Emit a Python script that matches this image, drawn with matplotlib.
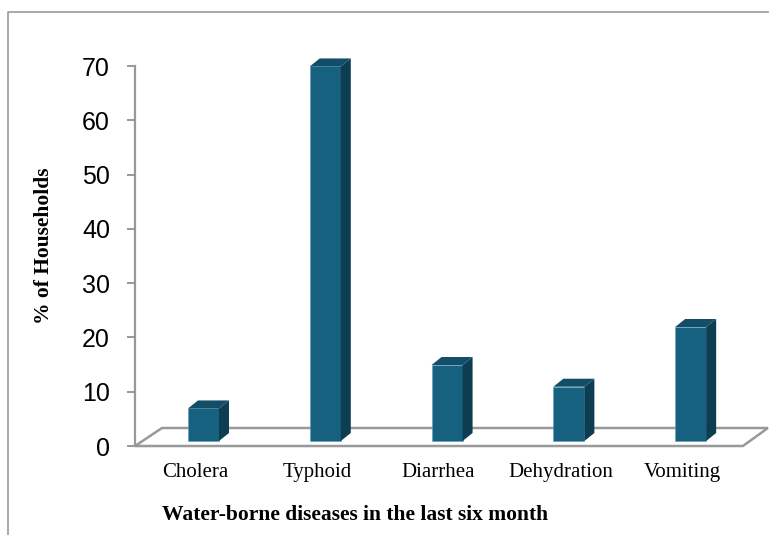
import matplotlib.pyplot as plt
from matplotlib.patches import Polygon
from matplotlib.lines import Line2D

# Survey results: share of households reporting each disease
diseases = ["Cholera", "Typhoid", "Diarrhea", "Dehydration", "Vomiting"]
percent = [6, 69, 14, 10, 21]
yticks = [0, 10, 20, 30, 40, 50, 60, 70]

front_col = "#166080"
side_col = "#0D3D50"
top_col = "#124E68"
grey = "#999999"

W, H = 769, 535
fig = plt.figure(figsize=(W / 100, H / 100), dpi=100)

# axes placed in pixel terms: y axis at x=135, 0..70 spans y=446..66
ax = fig.add_axes([135 / W, (H - 446) / H, (W - 135) / W, 380 / H])
ax.set_xlim(-0.4926, 4.713)
ax.set_ylim(0, 70)

px_x = 1 / 121.8      # one pixel in x data units
px_y = 70 / 380       # one pixel in y data units

for s in ["top", "right", "bottom"]:
    ax.spines[s].set_visible(False)
ax.spines["left"].set_color(grey)
ax.spines["left"].set_linewidth(1.6)

ax.set_yticks(yticks)
ax.tick_params(axis="y", length=6, width=1.4, color=grey, pad=12,
               labelsize=18, labelfontfamily="Liberation Sans")
ax.set_xticks(range(len(diseases)))
ax.set_xticklabels(diseases, fontsize=15, fontfamily="Liberation Serif")
ax.tick_params(axis="x", length=0, pad=12)

# floor of the 3-D plot area
fx0, fx1 = -0.4926, 4.499
bx0, bx1 = -0.271, 4.704
fy_back = 18 * px_y
floor = Polygon([(fx0, 0), (fx1, 0), (bx1, fy_back), (bx0, fy_back)],
                closed=True, facecolor="white", edgecolor=grey, lw=1.8,
                clip_on=False, zorder=1)
ax.add_patch(floor)

# bars drawn with a small depth: front face, side and top
shift_x = 8.5 * px_x
base = 5 * px_y
bw = 31 * px_x
dx = 10 * px_x
dy = 8 * px_y
for i, v in enumerate(percent):
    x0 = i + shift_x - bw / 2
    x1 = x0 + bw
    y0 = base
    y1 = base + v
    ax.bar(x0, v, width=bw, bottom=y0, align="edge", color=front_col,
           edgecolor="#5f9fbb", linewidth=0.4, zorder=3, clip_on=False)
    side = Polygon([(x1, y0), (x1 + dx, y0 + dy), (x1 + dx, y1 + dy), (x1, y1)],
                   closed=True, facecolor=side_col, edgecolor="none",
                   zorder=3, clip_on=False)
    top = Polygon([(x0, y1), (x1, y1), (x1 + dx, y1 + dy), (x0 + dx, y1 + dy)],
                  closed=True, facecolor=top_col, edgecolor="none",
                  zorder=3, clip_on=False)
    ax.add_patch(side)
    ax.add_patch(top)

fig.text(355 / W, 1 - 515 / H, "Water-borne diseases in the last six month",
         ha="center", va="center", fontsize=15.5, fontweight="bold",
         fontfamily="Liberation Serif")
fig.text(44 / W, 1 - 246 / H, "% of Households", ha="center", va="center",
         rotation=90, fontsize=15.5, fontweight="bold",
         fontfamily="Liberation Serif")

# chart frame
fig.add_artist(Line2D([8 / W, 8 / W, 768 / W], [0, 1 - 12 / H, 1 - 12 / H],
                      color=grey, lw=1.2))

fig.savefig("out.png", dpi=100)
